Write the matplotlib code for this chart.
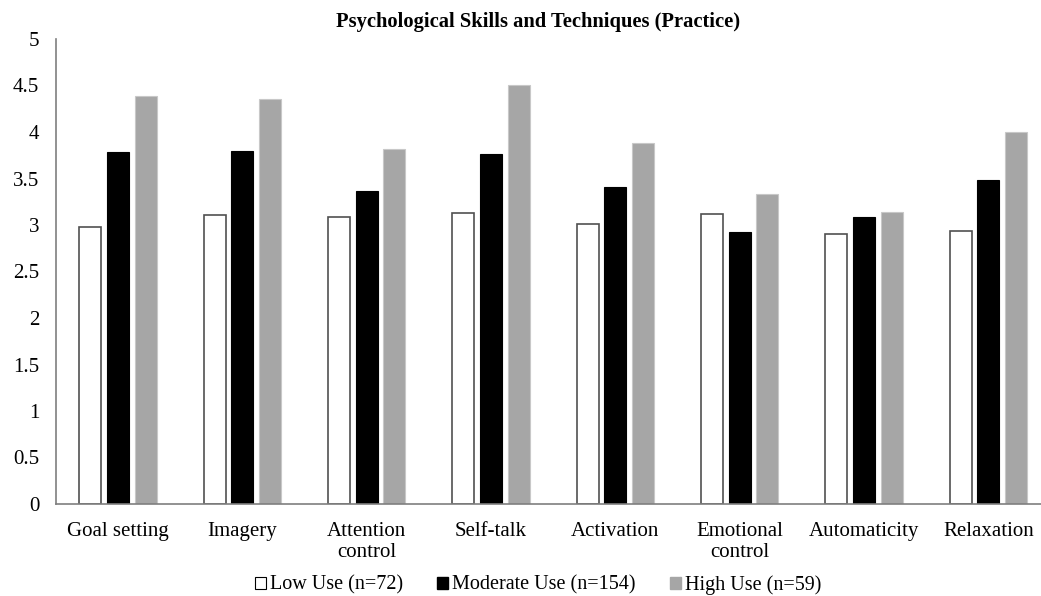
import numpy as np
import matplotlib.pyplot as plt
from matplotlib.patches import Patch

# valeurs
categories = ['Goal setting', 'Imagery', 'Attention\ncontrol', 'Self-talk',
              'Activation', 'Emotional\ncontrol', 'Automaticity', 'Relaxation']
low_use = [2.98, 3.11, 3.09, 3.13, 3.01, 3.12, 2.90, 2.94]
moderate_use = [3.78, 3.80, 3.37, 3.76, 3.41, 2.92, 3.09, 3.48]
high_use = [4.39, 4.36, 3.82, 4.51, 3.88, 3.33, 3.14, 4.00]
series_labels = ['Low Use (n=72)', 'Moderate Use (n=154)', 'High Use (n=59)']
yticks = [0, 0.5, 1, 1.5, 2, 2.5, 3, 3.5, 4, 4.5, 5]

plt.rcParams['font.family'] = ['Liberation Serif', 'DejaVu Serif']

fig = plt.figure(figsize=(10.41, 5.96), dpi=100)
ax = fig.add_axes([56 / 1041, 92 / 596, 985 / 1041, 465 / 596])

x = np.arange(len(categories))
pitch = 0.223
width = 0.177

ax.bar(x - pitch, low_use, width, facecolor='white', edgecolor='#505050', linewidth=1.2)
ax.bar(x, moderate_use, width, facecolor='black', edgecolor='black', linewidth=0.8)
ax.bar(x + pitch, high_use, width, facecolor='#a6a6a6', edgecolor='#c8c8c8', linewidth=0.8)

ax.set_xlim(-0.5, -0.5 + 985 / 124.3)
ax.set_ylim(0, 5)
ax.set_yticks(yticks)
ax.set_yticklabels([('%g' % t) for t in yticks], fontsize=15)
ax.set_xticks(x)
ax.set_xticklabels(categories, fontsize=15, linespacing=1.15)
ax.tick_params(axis='x', length=0, pad=13)
ax.tick_params(axis='y', length=0, pad=12)

for s in ['top', 'right']:
    ax.spines[s].set_visible(False)
for s in ['left', 'bottom']:
    ax.spines[s].set_color('#7f7f7f')
    ax.spines[s].set_linewidth(1.2)

fig.text(538 / 1041, 1 - 22 / 596, 'Psychological Skills and Techniques (Practice)',
         fontsize=14.8, fontweight='bold', ha='center', va='center')

handles = [Patch(facecolor='white', edgecolor='black', linewidth=0.8),
           Patch(facecolor='black', edgecolor='black'),
           Patch(facecolor='#a6a6a6', edgecolor='#a6a6a6')]
fig.legend(handles, series_labels, loc='center', bbox_to_anchor=(538 / 1041, 1 - 585 / 596),
           ncol=3, frameon=False, fontsize=14.5, handlelength=0.55, handleheight=0.55,
           handletextpad=0.2, columnspacing=1.7, borderpad=0)

fig.savefig('out.png', dpi=100)
